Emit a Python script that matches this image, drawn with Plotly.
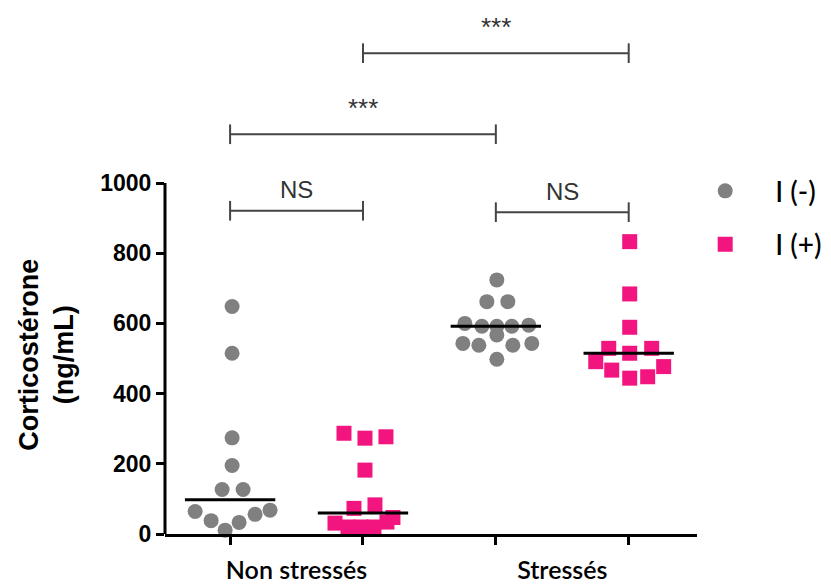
import numpy as np
import plotly.graph_objects as go

# groups on the x axis and the two series
groups = ["Non stressés", "Stressés"]
series = ["I (-)", "I (+)"]

# corticosterone values (ng/mL)
ns_neg = [648, 515, 274, 195, 127, 127, 64, 38, 11, 33, 56, 68]
ns_pos = [287, 273, 277, 182, 73, 83, 47, 31, 20, 20, 20, 34]
st_neg = [724, 662, 662, 600, 595, 592, 592, 592, 567, 543, 538, 538, 543, 498]
st_pos = [833, 684, 589, 529, 529, 515, 491, 467, 444, 448, 477]

# horizontal scatter of the dot plot, in pixels from the column centre
ns_neg_dx = [2, 2, 2, 2, -8, 13, -35, -19, -5, 9, 25, 40]
ns_pos_dx = [-19, 2, 23, 2, -9, 12, 30, -28, -15, -2, 11, 24]
st_neg_dx = [1, -9, 12, -31, 33, -14, 1, 16, 1, -33, -17, 17, 36, 1]
st_pos_dx = [1, 1, 1, -20, 23, 1, -33, -17, 1, 19, 35]

# significance brackets: (column a, column b, height, label)
brackets = [(2, 4, 1370, "***"), (1, 3, 1139, "***"), (1, 2, 921, "NS"), (3, 4, 917, "NS")]

GREY = "#808080"
PINK = "#F2157F"
PX = 133.0  # pixels per x unit

columns = [
    (1, ns_neg, ns_neg_dx, 0),
    (2, ns_pos, ns_pos_dx, 1),
    (3, st_neg, st_neg_dx, 0),
    (4, st_pos, st_pos_dx, 1),
]
styles = [
    dict(symbol="circle", color=GREY),
    dict(symbol="square", color=PINK),
]

fig = go.Figure()

shown = set()
for pos, vals, dx, s in columns:
    xs = [pos + d / PX for d in dx]
    fig.add_trace(go.Scatter(
        x=xs, y=vals, mode="markers",
        name=series[s], legendgroup=series[s],
        showlegend=s not in shown,
        marker=dict(size=15, line=dict(width=0), **styles[s]),
        cliponaxis=False,
    ))
    shown.add(s)

# median lines
for pos, vals, dx, s in columns:
    m = float(np.median(vals))
    fig.add_trace(go.Scatter(
        x=[pos - 0.34, pos + 0.34], y=[m, m], mode="lines",
        line=dict(color="black", width=3), showlegend=False, hoverinfo="skip",
    ))

# brackets
bx, by = [], []
tick = 28
for a, b, h, lab in brackets:
    bx += [a, a, None, a, b, None, b, b, None]
    by += [h - tick, h + tick, None, h, h, None, h - tick, h + tick, None]
    star = lab == "***"
    fig.add_annotation(
        x=(a + b) / 2, y=h, text=lab, showarrow=False,
        yanchor="middle", yshift=26 if star else 21,
        font=dict(family="Liberation Sans, Arial", size=26 if star else 24, color="#333333"),
    )
fig.add_trace(go.Scatter(
    x=bx, y=by, mode="lines", line=dict(color="#444444", width=2),
    showlegend=False, hoverinfo="skip", cliponaxis=False,
))

# y axis line only from 0 to 1000
fig.add_shape(type="line", xref="paper", yref="y", x0=0, x1=0, y0=0, y1=1000,
              line=dict(color="black", width=3))

fig.add_annotation(
    xref="paper", yref="paper", x=-0.222, y=0.342,
    text="Corticostérone<br>(ng/mL)", textangle=-90, showarrow=False,
    xanchor="center", yanchor="middle",
    font=dict(family="Liberation Sans, Arial", size=27, color="black", weight="bold"),
)

# the page adds an 8 px body margin, so the figure is 8 px smaller each way
fig.update_layout(
    width=823, height=576,
    margin=dict(l=157, r=134, t=2, b=50, autoexpand=False),
    plot_bgcolor="white", paper_bgcolor="white",
    xaxis=dict(
        range=[0.51, 4.514], showgrid=False, zeroline=False, automargin=False,
        showline=True, linecolor="black", linewidth=3,
        tickmode="array", tickvals=[1.5, 3.5], ticktext=groups,
        ticks="", ticklabelstandoff=12,
        tickfont=dict(family="Lato", size=25, color="black", weight=600),
        minor=dict(tickmode="array", tickvals=[1, 2, 3, 4], ticks="outside",
                   ticklen=8, tickwidth=3, tickcolor="black"),
    ),
    yaxis=dict(
        range=[0, 1493], showgrid=False, zeroline=False, showline=False, automargin=False,
        tickmode="array", tickvals=[0, 200, 400, 600, 800, 1000],
        ticks="outside", ticklen=8, tickwidth=3, tickcolor="black",
        tickfont=dict(family="Liberation Sans, Arial", size=23, color="black", weight="bold"),
    ),
    legend=dict(
        x=0.959, y=0.702, xanchor="left", yanchor="top",
        traceorder="grouped", tracegroupgap=14, itemwidth=90,
        bgcolor="rgba(0,0,0,0)",
        font=dict(family="Lato", size=28, color="black", weight=500),
    ),
)

fig.write_html("out.html")
